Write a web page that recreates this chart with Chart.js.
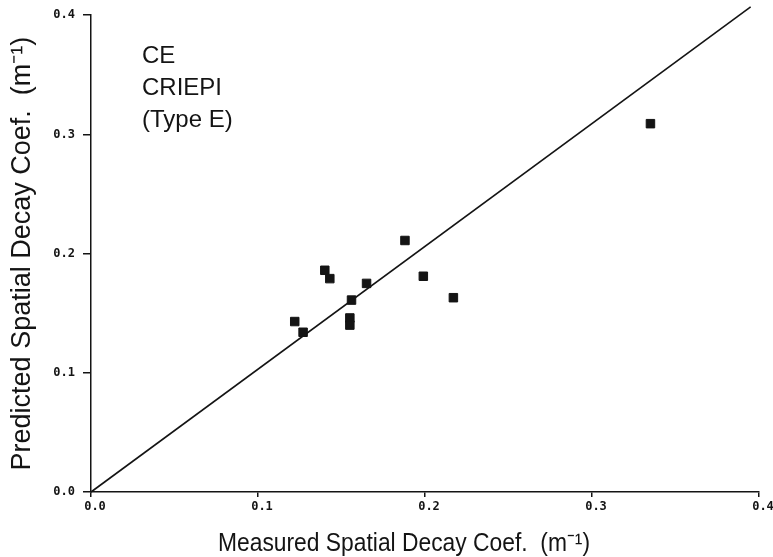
<!DOCTYPE html>
<html>
<head>
<meta charset="utf-8">
<script src="https://cdn.jsdelivr.net/npm/chart.js@4/dist/chart.umd.min.js"></script>
<style>
  html,body{margin:0;padding:0;background:#fff;}
  #wrap{width:773px;height:557px;position:relative;}
</style>
</head>
<body>
<div id="wrap"><canvas id="c" width="773" height="557"></canvas></div>
<script>
// measured vs predicted spatial decay coefficient (m^-1)
const measured  = [0.335, 0.188, 0.140, 0.143, 0.165, 0.199, 0.217, 0.156, 0.155, 0.155, 0.122, 0.127];
const predicted = [0.309, 0.211, 0.186, 0.179, 0.175, 0.181, 0.163, 0.161, 0.146, 0.140, 0.143, 0.134];
// 1:1 reference line
const lineX = [0, 0.395];
const lineY = [0, 0.407];
const xTicks = [0, 0.1, 0.2, 0.3, 0.4];
const yTicks = [0, 0.1, 0.2, 0.3, 0.4];
const noteLines = ["CE", "CRIEPI", "(Type E)"];
const xTitle = "Measured Spatial Decay Coef.  (m\u207B\u00B9)";
const yTitle = "Predicted Spatial Decay Coef.  (m\u207B\u00B9)";

const INK = "#141414";
const tickFont = {family:"'DejaVu Sans Mono', monospace", size:12, weight:"bold"};

const notes = {
  id:"notes",
  afterDraw(ch){
    const ctx = ch.ctx;
    ctx.save();
    ctx.fillStyle = INK;
    ctx.font = "24px 'Liberation Sans', Arial, sans-serif";
    ctx.textBaseline = "alphabetic";
    noteLines.forEach((t,i)=>ctx.fillText(t, 142, 63 + i*32));
    // condensed x axis title
    ctx.font = "26px 'Liberation Sans', Arial, sans-serif";
    const w = ctx.measureText(xTitle).width;
    ctx.translate(404, 551);
    ctx.scale(372/w, 1);
    ctx.textAlign = "center";
    ctx.fillText(xTitle, 0, 0);
    ctx.restore();
  }
};

new Chart(document.getElementById("c"), {
  type:"scatter",
  data:{
    datasets:[
      {
        label:"points",
        data: measured.map((x,i)=>({x, y:predicted[i]})),
        pointStyle:"rect",
        pointRadius:6,
        pointBackgroundColor:INK,
        pointBorderColor:INK,
        pointBorderWidth:1
      },
      {
        type:"line",
        label:"1:1",
        data: lineX.map((x,i)=>({x, y:lineY[i]})),
        borderColor:INK,
        borderWidth:1.6,
        pointRadius:0,
        fill:false,
        clip:false
      }
    ]
  },
  options:{
    responsive:false,
    animation:false,
    layout:{padding:{left:0, right:14, top:15, bottom:0}},
    plugins:{legend:{display:false}, tooltip:{enabled:false}},
    scales:{
      x:{
        type:"linear", min:0, max:0.4,
        afterBuildTicks(s){ s.ticks = xTicks.map(v=>({value:v})); },
        afterFit(s){ s.height = 65; },
        border:{display:true, color:INK, width:1.5},
        grid:{drawOnChartArea:false, drawTicks:true, tickLength:5, color:INK, lineWidth:1.5},
        ticks:{color:INK, font:tickFont, padding:3, labelOffset:4, maxRotation:0,
               callback:v=>v.toFixed(1)},
        title:{display:false}
      },
      y:{
        type:"linear", min:0, max:0.4,
        afterBuildTicks(s){ s.ticks = yTicks.map(v=>({value:v})); },
        afterFit(s){ s.width = 91; },
        border:{display:true, color:INK, width:1.5},
        grid:{drawOnChartArea:false, drawTicks:true, tickLength:8, color:INK, lineWidth:1.5},
        ticks:{color:INK, font:tickFont, padding:8, callback:v=>v.toFixed(1)},
        title:{display:true, text:yTitle, color:INK,
               font:{family:"'Liberation Sans', Arial, sans-serif", size:27},
               padding:{top:6, bottom:0}}
      }
    }
  },
  plugins:[notes]
});
</script>
</body>
</html>
